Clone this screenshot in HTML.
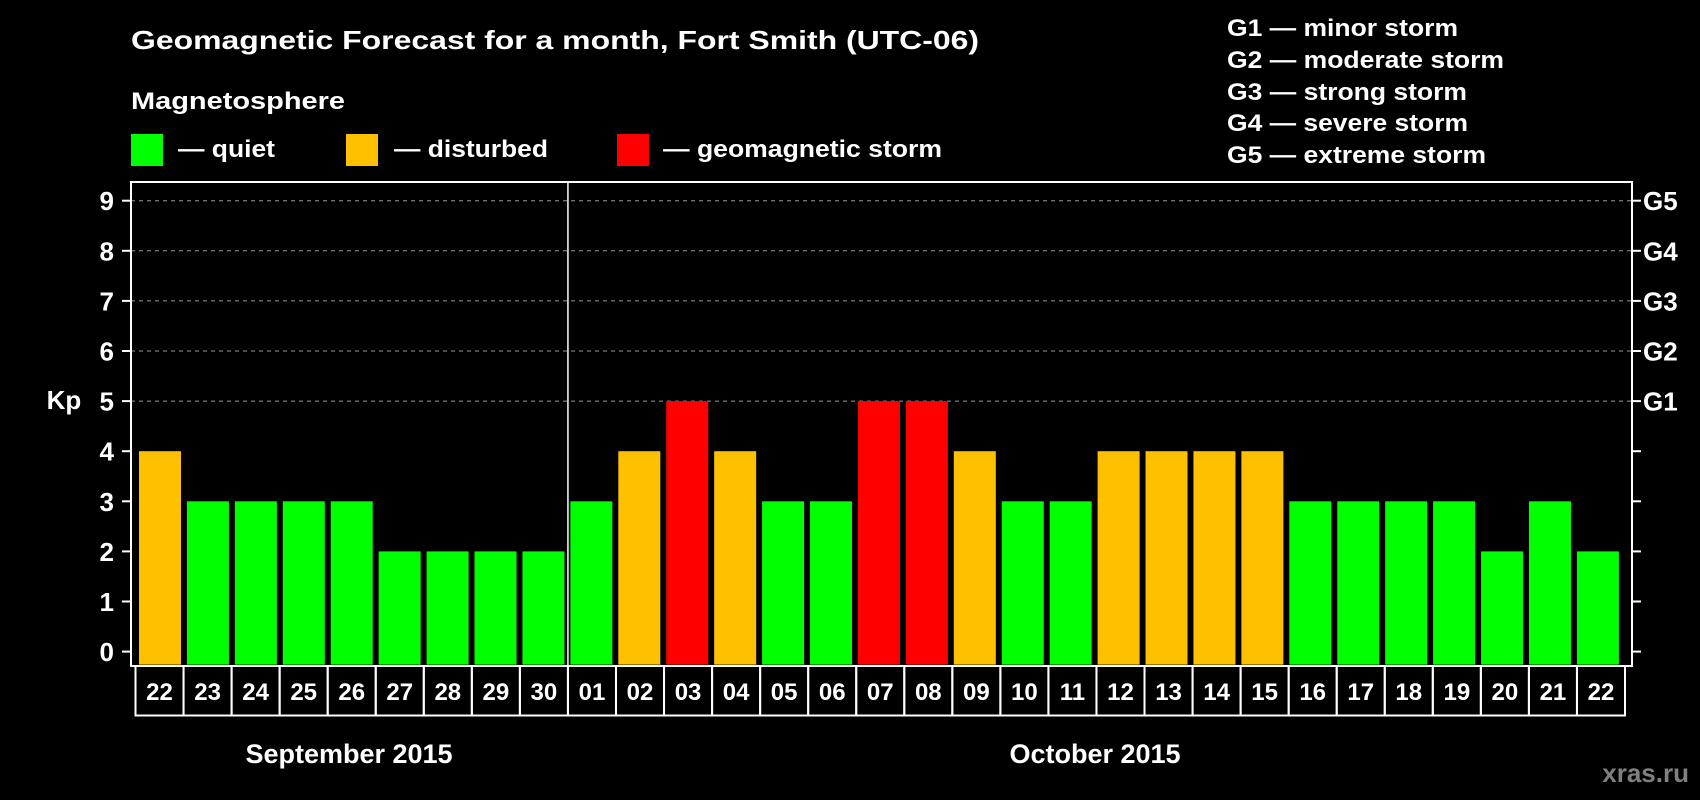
<!DOCTYPE html>
<html><head><meta charset="utf-8"><style>
html,body{margin:0;padding:0;background:#000;}
svg{display:block;font-family:"Liberation Sans",Arial,sans-serif;font-weight:bold;}
</style></head><body>
<svg id="chart" width="1700" height="800" viewBox="0 0 1700 800" xmlns="http://www.w3.org/2000/svg">
<rect width="1700" height="800" fill="#000"/>
<text x="131" y="49" fill="#fff" font-size="26" textLength="848" lengthAdjust="spacingAndGlyphs">Geomagnetic Forecast for a month, Fort Smith (UTC-06)</text>
<text x="131" y="109" fill="#fff" font-size="24" textLength="214" lengthAdjust="spacingAndGlyphs">Magnetosphere</text>
<g><rect x="131" y="134" width="32" height="32" fill="#00ff00"/><text x="178" y="157" fill="#fff" font-size="24" textLength="97" lengthAdjust="spacingAndGlyphs">— quiet</text></g>
<g><rect x="346" y="134" width="32" height="32" fill="#ffc000"/><text x="394" y="157" fill="#fff" font-size="24" textLength="154" lengthAdjust="spacingAndGlyphs">— disturbed</text></g>
<g><rect x="617" y="134" width="32" height="32" fill="#ff0000"/><text x="663" y="157" fill="#fff" font-size="24" textLength="279" lengthAdjust="spacingAndGlyphs">— geomagnetic storm</text></g>
<g fill="#fff" font-size="24">
<text x="1227" y="36" textLength="231" lengthAdjust="spacingAndGlyphs">G1 — minor storm</text>
<text x="1227" y="68" textLength="277" lengthAdjust="spacingAndGlyphs">G2 — moderate storm</text>
<text x="1227" y="100" textLength="240" lengthAdjust="spacingAndGlyphs">G3 — strong storm</text>
<text x="1227" y="131" textLength="241" lengthAdjust="spacingAndGlyphs">G4 — severe storm</text>
<text x="1227" y="163" textLength="259" lengthAdjust="spacingAndGlyphs">G5 — extreme storm</text>
</g>
<text x="64" y="409" fill="#fff" font-size="26" text-anchor="middle">Kp</text>
<g id="grid"></g>
<g id="bars"></g>
<g id="axes"></g>
<text x="349" y="763" fill="#fff" font-size="27" text-anchor="middle">September 2015</text>
<text x="1095" y="763" fill="#fff" font-size="27" text-anchor="middle">October 2015</text>
<text x="1689" y="782" fill="#808080" font-size="26" text-anchor="end">xras.ru</text>
</svg>
<script>
const days = ["22","23","24","25","26","27","28","29","30","01","02","03","04","05","06","07","08","09","10","11","12","13","14","15","16","17","18","19","20","21","22"];
const kpValues = [4,3,3,3,3,2,2,2,2,3,4,5,4,3,3,5,5,4,3,3,4,4,4,4,3,3,3,3,2,3,2];
const yTicks = [0,1,2,3,4,5,6,7,8,9];
const gLabels = ["","","","","","G1","G2","G3","G4","G5"];
const NS = "http://www.w3.org/2000/svg";
const L = 131, R = 1632, T = 182, B = 666;
const y = v => 651.6 - v * 50.1;
const xBar = i => 139 + i * 47.93;
const slotL = 135.5, slotW = (1625 - 135.5) / days.length;
function mk(tag, attrs, parent){ const e = document.createElementNS(NS, tag); for (const k in attrs) e.setAttribute(k, attrs[k]); parent.appendChild(e); return e; }
const grid = document.getElementById('grid'), bars = document.getElementById('bars'), axes = document.getElementById('axes');
const color = v => v >= 5 ? "#ff0000" : (v === 4 ? "#ffc000" : "#00ff00");
yTicks.forEach((t, i) => {
  if (t >= 5) {
    const g = mk('line', {x1: L, x2: R, y1: y(t), y2: y(t), stroke: "#999", "stroke-width": 1, "stroke-dasharray": "4,4"}, grid);
    
    
  }
  mk('line', {x1: L - 9, x2: L, y1: y(t), y2: y(t), stroke: "#fff", "stroke-width": 2}, axes);
  mk('line', {x1: R, x2: R + 9, y1: y(t), y2: y(t), stroke: "#fff", "stroke-width": 2}, axes);
  const tl = mk('text', {x: 114, y: y(t) + 9.5, fill: "#fff", "font-size": 26, "text-anchor": "end"}, axes);
  tl.textContent = t;
  
  
  if (gLabels[i]) {
    const gl = mk('text', {x: 1643, y: y(t) + 9.5, fill: "#fff", "font-size": 26}, axes);
    gl.textContent = gLabels[i];
    
    
  }
});
kpValues.forEach((v, i) => {
  const b = mk('rect', {x: xBar(i), y: y(v), width: 42, height: y(0) - y(v) + 13, fill: color(v)}, bars);
  
  
});
const frame = mk('rect', {x: L, y: T, width: R - L, height: B - T, fill: "none", stroke: "#fff", "stroke-width": 2}, axes);


const div = mk('line', {x1: slotL + 9 * slotW, x2: slotL + 9 * slotW, y1: T, y2: B, stroke: "#fff", "stroke-width": 1.5}, axes);


days.forEach((d, i) => {
  const bx = mk('rect', {x: slotL + i * slotW, y: B, width: slotW, height: 49.5, fill: "none", stroke: "#fff", "stroke-width": 2}, axes);
  
  
  const t = mk('text', {x: slotL + i * slotW + slotW / 2, y: B + 34, fill: "#fff", "font-size": 24, "text-anchor": "middle"}, axes);
  t.textContent = d;
  
  
});
</script>
</body></html>
